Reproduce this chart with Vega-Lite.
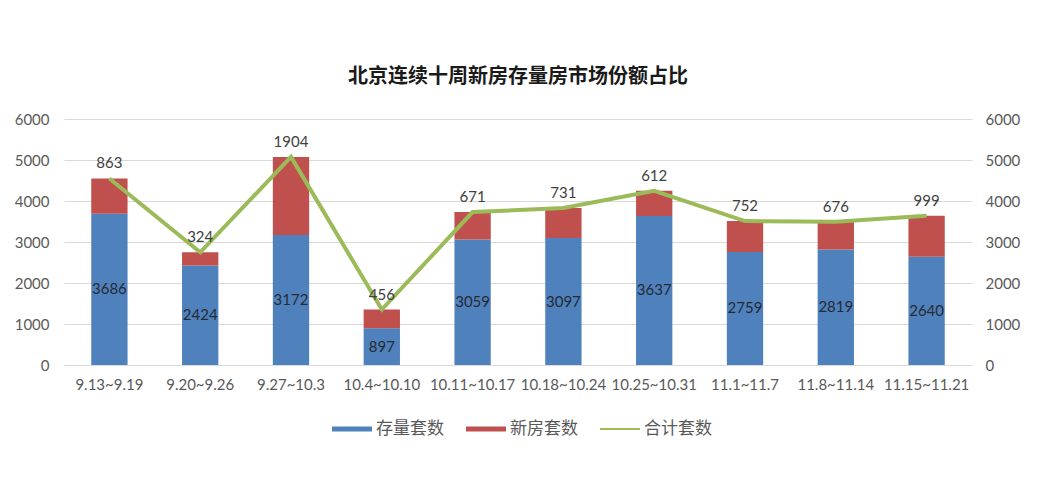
{
  "$schema": "https://vega.github.io/schema/vega-lite/v6.json",
  "width": 908,
  "height": 246,
  "autosize": "none",
  "padding": {"left": 64, "top": 119, "right": 66, "bottom": 135},
  "background": "white",
  "title": {
    "text": "北京连续十周新房存量房市场份额占比",
    "font": "Noto Sans CJK SC",
    "fontSize": 20,
    "fontWeight": "bold",
    "color": "#1a1a1a",
    "anchor": "middle",
    "offset": 25
  },
  "data": {
    "values": [
      {"week": "9.13~9.19", "存量套数": 3686, "新房套数": 863, "合计套数": 4549},
      {"week": "9.20~9.26", "存量套数": 2424, "新房套数": 324, "合计套数": 2748},
      {"week": "9.27~10.3", "存量套数": 3172, "新房套数": 1904, "合计套数": 5076},
      {"week": "10.4~10.10", "存量套数": 897, "新房套数": 456, "合计套数": 1353},
      {"week": "10.11~10.17", "存量套数": 3059, "新房套数": 671, "合计套数": 3730},
      {"week": "10.18~10.24", "存量套数": 3097, "新房套数": 731, "合计套数": 3828},
      {"week": "10.25~10.31", "存量套数": 3637, "新房套数": 612, "合计套数": 4249},
      {"week": "11.1~11.7", "存量套数": 2759, "新房套数": 752, "合计套数": 3511},
      {"week": "11.8~11.14", "存量套数": 2819, "新房套数": 676, "合计套数": 3495},
      {"week": "11.15~11.21", "存量套数": 2640, "新房套数": 999, "合计套数": 3639}
    ]
  },
  "layer": [
    {
      "transform": [{"fold": ["存量套数", "新房套数"], "as": ["series", "value"]}],
      "mark": {"type": "bar"},
      "encoding": {
        "x": {
          "field": "week", "type": "nominal", "sort": null,
          "scale": {"paddingInner": 0.6, "paddingOuter": 0.3},
          "axis": {"title": null, "labelAngle": 0, "domain": true, "domainColor": "#d9d9d9", "ticks": false,
                   "labelFont": "Lato", "labelFontSize": 15, "labelColor": "#595959", "labelPadding": 12}
        },
        "y": {
          "field": "value", "type": "quantitative", "stack": "zero",
          "scale": {"domain": [0, 6000]},
          "axis": {"title": null, "orient": "left", "values": [0, 1000, 2000, 3000, 4000, 5000, 6000], "format": "d",
                   "grid": true, "gridColor": "#d9d9d9", "domain": false, "ticks": false, "labelPadding": 15,
                   "labelFont": "Lato", "labelFontSize": 15, "labelColor": "#595959"}
        },
        "order": {"field": "series", "sort": "ascending"},
        "color": {
          "field": "series", "type": "nominal",
          "scale": {"domain": ["存量套数", "新房套数", "合计套数"], "range": ["#4F81BD", "#C0504D", "#9BBB59"]},
          "legend": {
            "orient": "none", "legendX": 268, "legendY": 290, "direction": "horizontal", "title": null,
            "padding": 0,
            "symbolType": "M-1,-0.13H1V0.13H-1Z", "symbolSize": 1600, "symbolStrokeWidth": 0,
            "labelFont": "Noto Sans CJK SC", "labelFontSize": 17, "labelColor": "#595959",
            "labelOffset": 4, "columnPadding": 22,
            "encode": {"symbols": {"update": {"shape": {"signal": "datum.value === '合计套数' ? 'M-1,-0.055H1V0.055H-1Z' : 'M-1,-0.13H1V0.13H-1Z'"}}}}
          }
        }
      }
    },
    {
      "mark": {"type": "line", "color": "#9BBB59", "strokeWidth": 4},
      "encoding": {
        "x": {"field": "week", "type": "nominal", "sort": null},
        "y": {
          "field": "合计套数", "type": "quantitative", "scale": {"domain": [0, 6000]},
          "axis": {"title": null, "orient": "right", "values": [0, 1000, 2000, 3000, 4000, 5000, 6000], "format": "d",
                   "grid": false, "domain": false, "ticks": false, "labelPadding": 13,
                   "labelFont": "Lato", "labelFontSize": 15, "labelColor": "#595959"}
        }
      }
    },
    {
      "mark": {"type": "text", "font": "Lato", "fontSize": 15, "color": "#404040", "baseline": "middle", "dy": -15},
      "encoding": {
        "x": {"field": "week", "type": "nominal", "sort": null},
        "y": {"field": "合计套数", "type": "quantitative", "scale": {"domain": [0, 6000]}, "axis": null},
        "text": {"field": "新房套数", "type": "quantitative"}
      }
    },
    {
      "mark": {"type": "text", "font": "Lato", "fontSize": 15, "color": "#262a33", "baseline": "middle"},
      "encoding": {
        "x": {"field": "week", "type": "nominal", "sort": null},
        "y": {"field": "存量套数", "type": "quantitative", "scale": {"domain": [0, 12000]}, "axis": null},
        "text": {"field": "存量套数", "type": "quantitative"}
      }
    }
  ],
  "resolve": {"scale": {"y": "independent"}},
  "config": {"view": {"stroke": null}}
}
